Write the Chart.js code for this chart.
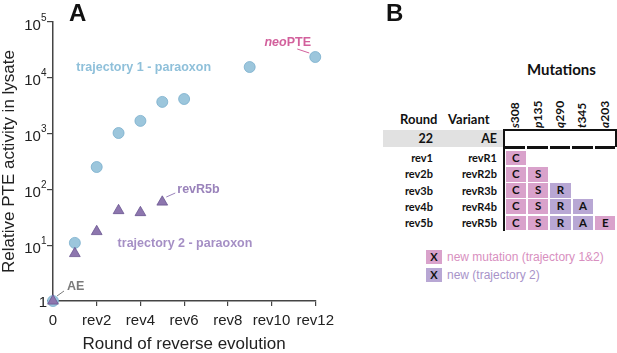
<!DOCTYPE html>
<html>
<head>
<meta charset="utf-8">
<script src="https://cdn.jsdelivr.net/npm/chart.js@4.4.1/dist/chart.umd.min.js"></script>
<style>
  body { margin: 0; width: 617px; height: 353px; overflow: hidden; background: #fff; position: relative;
         font-family: "Liberation Sans", Arial, sans-serif; }
  #activity { position: absolute; left: 0; top: 0; }
  .t { position: absolute; white-space: nowrap; }
  .lato { font-family: Lato, "Open Sans", sans-serif; font-weight: bold; color: #111; }
</style>
</head>
<body>
<canvas id="activity" width="340" height="360"></canvas>
<div id="panelB"></div>
<script>
// ---- panel A data ----
var traj1_rounds = [0, 1, 2, 3, 4, 5, 6, 9, 12];
var traj1_activity = [1, 11, 252, 1025, 1690, 3700, 4170, 15600, 23600];
var traj2_rounds = [0, 1, 2, 3, 4, 5];
var traj2_activity = [1, 7.1, 17.6, 41.8, 38.5, 59.4];

var xTickValues = [0, 2, 4, 6, 8, 10, 12];
var xTickLabels = ['0', 'rev2', 'rev4', 'rev6', 'rev8', 'rev10', 'rev12'];
var yTickValues = [1, 10, 100, 1000, 10000, 100000];
var yTickLabels = ['1', '10^1', '10^2', '10^3', '10^4', '10^5'];

// ---- panel B data ----
var roundNames = ['22', 'rev1', 'rev2b', 'rev3b', 'rev4b', 'rev5b'];
var variantNames = ['AE', 'revR1', 'revR2b', 'revR3b', 'revR4b', 'revR5b'];
var siteLetters = ['s', 'p', 'q', 't', 'a'];
var siteNumbers = ['308', '135', '290', '345', '203'];
var mutationLetters = [
  ['', '', '', '', ''],
  ['C', '', '', '', ''],
  ['C', 'S', '', '', ''],
  ['C', 'S', 'R', '', ''],
  ['C', 'S', 'R', 'A', ''],
  ['C', 'S', 'R', 'A', 'E']
];
// 1 = new mutation (trajectory 1&2), 2 = new (trajectory 2)
var mutationKind = [
  [0, 0, 0, 0, 0],
  [1, 0, 0, 0, 0],
  [1, 1, 0, 0, 0],
  [1, 1, 2, 0, 0],
  [1, 1, 2, 2, 0],
  [1, 1, 2, 2, 1]
];
var legendLabels = ['new mutation (trajectory 1&2)', 'new (trajectory 2)'];

var blue = '#9cc6dc', blueEdge = '#7aafcd';
var purple = '#8d76ae', purpleEdge = '#6a5590';
var pinkCell = '#d9a2cb', purpleCell = '#b8a7d4';

var notes = [
  {text: 'trajectory 1 - paraoxon', x: 4.15, y: 15000, dx: 0, dy: 0, align: 'center', color: '#8fc0da'},
  {text: 'trajectory 2 - paraoxon', x: 6.04, y: 10.9, dx: 0, dy: 0, align: 'center', color: '#a58fc5'},
  {text: 'revR5b', x: 5, y: 59.4, dx: 15, dy: -12, align: 'left', color: '#9a83bb', line: [4, -5, 13, -9]},
  {text: 'AE', x: 0, y: 1, dx: 14, dy: -14, align: 'left', color: '#7a7a7a', line: [4, -5, 11, -10]},
  {text: 'PTE', italic: 'neo', x: 12, y: 23600, dx: -27.5, dy: -14, align: 'center', color: '#d2609c', line: [-18, -8, -6, -4]}
];

const annotate = {
  id: 'annotate',
  afterDraw(chart) {
    const ctx = chart.ctx, xs = chart.scales.x, ys = chart.scales.y;
    const ax = chart.chartArea.left;
    ctx.save();
    ctx.fillStyle = '#222';
    ctx.textBaseline = 'alphabetic';
    yTickValues.forEach(function(v, i) {
      const y = ys.getPixelForValue(v);
      const parts = yTickLabels[i].split('^');
      if (parts.length === 1) {
        ctx.font = '15px "Liberation Sans", Arial';
        ctx.textAlign = 'right';
        ctx.fillText(parts[0], ax - 6, y + 6);
      } else {
        ctx.font = '10px "Liberation Sans", Arial';
        const ew = ctx.measureText(parts[1]).width;
        ctx.textAlign = 'left';
        ctx.fillText(parts[1], ax - 6.5 - ew, y - 1.5);
        ctx.font = '15px "Liberation Sans", Arial';
        ctx.textAlign = 'right';
        ctx.fillText(parts[0], ax - 6.5 - ew, y + 7.5);
      }
    });

    notes.forEach(function(n) {
      const px = xs.getPixelForValue(n.x), py = ys.getPixelForValue(n.y);
      ctx.fillStyle = n.color;
      ctx.strokeStyle = n.color;
      ctx.textBaseline = 'middle';
      if (n.line) {
        ctx.lineWidth = 1;
        ctx.beginPath();
        ctx.moveTo(px + n.line[0], py + n.line[1]);
        ctx.lineTo(px + n.line[2], py + n.line[3]);
        ctx.stroke();
      }
      ctx.font = 'bold 12.5px "Liberation Sans", Arial';
      if (n.italic) {
        const w2 = ctx.measureText(n.text).width;
        ctx.font = 'italic bold 12.5px "Liberation Sans", Arial';
        const w1 = ctx.measureText(n.italic).width;
        let x0 = px + n.dx - (w1 + w2) / 2;
        ctx.textAlign = 'left';
        ctx.fillText(n.italic, x0, py + n.dy);
        ctx.font = 'bold 12.5px "Liberation Sans", Arial';
        ctx.fillText(n.text, x0 + w1, py + n.dy);
      } else {
        ctx.textAlign = n.align;
        ctx.fillText(n.text, px + n.dx, py + n.dy);
      }
    });
    ctx.restore();
  }
};

const activity_chart = new Chart(document.getElementById('activity'), {
  type: 'scatter',
  data: {
    datasets: [
      {
        label: 'trajectory 2 - paraoxon',
        data: traj2_rounds.map(function(r, i) { return {x: r, y: traj2_activity[i]}; }),
        pointStyle: 'triangle',
        pointRadius: 6.2,
        backgroundColor: purple,
        borderColor: purpleEdge,
        borderWidth: 0.8,
        clip: false
      },
      {
        label: 'trajectory 1 - paraoxon',
        data: traj1_rounds.map(function(r, i) { return {x: r, y: traj1_activity[i]}; }),
        pointStyle: 'circle',
        pointRadius: 5.5,
        backgroundColor: blue,
        borderColor: blueEdge,
        borderWidth: 0.8,
        clip: false
      }
    ]
  },
  options: {
    responsive: false,
    animation: false,
    devicePixelRatio: 1,
    layout: { padding: { top: 22, right: 13, left: 0, bottom: 0 } },
    plugins: { legend: { display: false }, tooltip: { enabled: false } },
    scales: {
      x: {
        type: 'linear',
        min: 0, max: 12,
        afterBuildTicks: function(s) { s.ticks = xTickValues.map(function(v) { return {value: v}; }); },
        afterFit: function(s) { s.height = 59; },
        ticks: {
          font: { family: '"Liberation Sans", Arial', size: 15 },
          color: '#222',
          padding: 6,
          maxRotation: 0,
          autoSkip: false,
          callback: function(v) { return xTickLabels[xTickValues.indexOf(v)]; }
        },
        grid: { drawOnChartArea: false, tickLength: 5, color: '#444', lineWidth: 1.2 },
        border: { display: true, color: '#444', width: 1.5 },
        title: {
          display: true,
          text: 'Round of reverse evolution',
          color: '#222',
          font: { family: '"Liberation Sans", Arial', size: 17, lineHeight: 1 },
          padding: { top: 0, bottom: 7.5 }
        }
      },
      y: {
        type: 'logarithmic',
        min: 1, max: 100000,
        afterBuildTicks: function(s) { s.ticks = yTickValues.map(function(v) { return {value: v}; }); },
        afterFit: function(s) { s.width = 53; },
        ticks: { callback: function() { return ''; } },
        grid: { drawOnChartArea: false, tickLength: 6, color: '#444', lineWidth: 1.2 },
        border: { display: true, color: '#444', width: 1.5 },
        title: {
          display: true,
          text: 'Relative PTE activity in lysate',
          color: '#222',
          font: { family: '"Liberation Sans", Arial', size: 17, lineHeight: 1 },
          padding: { top: 1, bottom: 0 }
        }
      }
    }
  },
  plugins: [annotate]
});

// ---- panel labels and table (panel B) ----
const panelB = document.getElementById('panelB');
function addText(txt, x, cy, h, cls, css) {
  const d = document.createElement('div');
  d.className = 't ' + cls;
  d.innerHTML = txt;
  d.style.top = (cy - h / 2) + 'px';
  d.style.height = h + 'px';
  d.style.lineHeight = h + 'px';
  if (css && css.right) { d.style.right = (617 - x) + 'px'; }
  else if (css && css.center) { d.style.left = (x - 50) + 'px'; d.style.width = '100px'; d.style.textAlign = 'center'; }
  else { d.style.left = x + 'px'; }
  if (css && css.style) { d.style.cssText += css.style; }
  panelB.appendChild(d);
  return d;
}
function addBox(x, y, w, h, color) {
  const d = document.createElement('div');
  d.className = 't';
  d.style.cssText += 'left:' + x + 'px;top:' + y + 'px;width:' + w + 'px;height:' + h + 'px;background:' + color + ';';
  panelB.appendChild(d);
  return d;
}

addText('A', 69, 12, 26, '', {style: 'font: bold 24px "Liberation Sans", Arial; color:#111;'});
addText('B', 386, 12, 26, '', {style: 'font: bold 24px "Liberation Sans", Arial; color:#111;'});

var gridLeft = 504, colW = 22.4, gridTop = 130, aeBottom = 147, rowTop = 150, rowH = 16.2;
var cellColors = ['transparent', pinkCell, purpleCell];

addText('Mutations', 527, 69, 20, 'lato', {style: 'font-size:15px;'});
addText('Round', 400, 119, 18, 'lato', {style: 'font-size:13px;'});
addText('Variant', 448, 119, 18, 'lato', {style: 'font-size:13px;'});

// gray AE row band and box
addBox(383, gridTop, gridLeft - 383, aeBottom - gridTop, '#e1e1e1');
addBox(gridLeft - 1, gridTop - 1, 616 - gridLeft + 1, 1.5, '#111');
addBox(615, gridTop - 1, 1.5, aeBottom - gridTop + 1, '#111');
addBox(gridLeft - 1.5, gridTop - 1, 2, rowTop + 5 * rowH - gridTop + 1, '#111');

siteLetters.forEach(function(s, c) {
  const cx = gridLeft + (c + 0.5) * colW;
  const d = document.createElement('div');
  d.className = 't lato';
  d.innerHTML = '<i>' + s + '</i>' + siteNumbers[c];
  d.style.cssText += 'font-size:12px;height:14px;line-height:14px;left:' + (cx - 7) + 'px;top:128px;transform:rotate(-90deg);transform-origin:0 0;';
  panelB.appendChild(d);
  // dashed bottom line of the AE row
  addBox(gridLeft + c * colW + 1, aeBottom - 1, colW - 2, 2.5, '#111');
});

roundNames.forEach(function(r, i) {
  const cy = i === 0 ? (gridTop + aeBottom) / 2 : rowTop + (i - 0.5) * rowH;
  const fs = i === 0 ? 12.5 : 11;
  addText(r, 433, cy, 14, 'lato', {right: true, style: 'font-size:' + fs + 'px;'});
  addText(variantNames[i], 497, cy, 14, 'lato', {right: true, style: 'font-size:' + fs + 'px;'});
  if (i === 0) return;
  mutationLetters[i].forEach(function(m, c) {
    if (!mutationKind[i][c]) return;
    const y0 = rowTop + (i - 1) * rowH;
    const b = addBox(gridLeft + c * colW + 1.5, y0 + 0.8, colW - 2, rowH - 1.6, cellColors[mutationKind[i][c]]);
    b.className = 't lato';
    b.style.cssText += 'font-size:11.5px;text-align:center;line-height:' + (rowH - 1.6) + 'px;';
    b.textContent = m;
  });
});

// legend
legendLabels.forEach(function(l, i) {
  const cy = 257 + i * 18;
  const b = addBox(426, cy - 7, 16, 14, i === 0 ? pinkCell : purpleCell);
  b.className = 't lato';
  b.style.cssText += 'font-size:11px;text-align:center;line-height:14px;';
  b.textContent = 'X';
  addText(l, 447, cy, 16, '', {style: 'font-size:12px;color:' + (i === 0 ? '#d88fc0' : '#a893c9') + ';'});
});
</script>
</body>
</html>
